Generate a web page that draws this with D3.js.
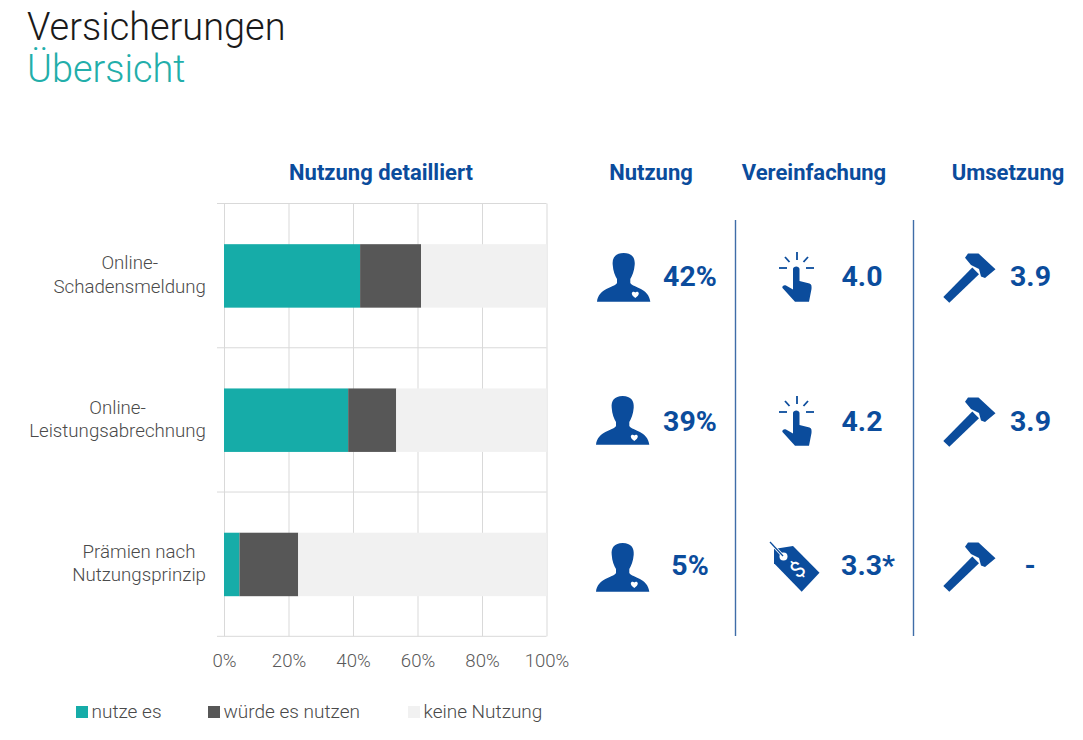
<!DOCTYPE html>
<html><head><meta charset="utf-8">
<script src="https://cdnjs.cloudflare.com/ajax/libs/d3/7.8.5/d3.min.js"></script>
<style>html,body{margin:0;padding:0;background:#fff}svg{display:block;font-family:Roboto,sans-serif}</style>
</head><body><svg id="c" width="1083" height="740"></svg>
<script>
const categories=[["Online-","Schadensmeldung"],["Online-","Leistungsabrechnung"],["Prämien nach","Nutzungsprinzip"]];
const seriesNames=["nutze es","würde es nutzen","keine Nutzung"];
const nutzeEs=[42.2,38.5,4.8];
const wuerdeEsNutzen=[18.9,14.9,18.2];
const keineNutzung=[38.9,46.6,77];
const tickValues=[0,20,40,60,80,100];
const colors=["#16aca8","#575757","#f1f1f1"];
const headers=["Nutzung detailliert","Nutzung","Vereinfachung","Umsetzung"];
const nutzungLabels=["42%","39%","5%"];
const vereinfachungLabels=["4.0","4.2","3.3*"];
const umsetzungLabels=["3.9","3.9","-"];
const blue="#0b4c9c";

const svg=d3.select("#c");
const x=d3.scaleLinear().domain([0,100]).range([224,546.5]);
const y=d3.scaleBand().domain(d3.range(categories.length)).range([203.5,636.3]);

// title
svg.append("text").attr("x",27).attr("y",39.5).attr("font-size",37.9).attr("font-weight",300).attr("fill","#1a1a1a").text("Versicherungen");
svg.append("text").attr("x",27).attr("y",81.5).attr("font-size",37.9).attr("font-weight",300).attr("fill","#22aeaa").text("Übersicht");

// grid + axis
const xAxis=d3.axisBottom(x).tickValues(tickValues).tickFormat(d=>d+"%").tickSize(432.8).tickPadding(17);
const gx=svg.append("g").attr("transform","translate(0,203.5)").call(xAxis);
gx.select(".domain").remove();
gx.selectAll("line").attr("stroke","#d9d9d9").attr("stroke-width",1);
gx.selectAll("text").attr("font-size",18.6).attr("font-weight",300).attr("fill","#595959").attr("font-family","Roboto");

// horizontal band lines
svg.append("g").selectAll("line").data(d3.range(categories.length+1)).join("line")
 .attr("x1",217).attr("x2",x(100))
 .attr("y1",i=>i<categories.length?y(i):y.range()[1])
 .attr("y2",i=>i<categories.length?y(i):y.range()[1])
 .attr("stroke","#d9d9d9");

// bars
const rows=categories.map((c,i)=>[nutzeEs[i],wuerdeEsNutzen[i],keineNutzung[i]]);
const barOff=y.bandwidth()*0.282, barH=y.bandwidth()*0.44;
rows.forEach((r,i)=>{
  let acc=0;
  r.forEach((v,k)=>{
    svg.append("rect").attr("x",x(acc)).attr("width",x(acc+v)-x(acc))
      .attr("y",y(i)+barOff).attr("height",barH).attr("fill",colors[k]);
    acc+=v;
  });
});

// category labels, each block centred on its widest line
categories.forEach((c,i)=>{
  const g=svg.append("g").attr("font-size",18.7).attr("font-weight",300).attr("fill","#4a4a4a");
  const base=y(i)+barOff+barH/2;
  const t2=g.append("text").attr("x",206).attr("y",base+17).attr("text-anchor","end").text(c[1]);
  const w=t2.node().getComputedTextLength();
  g.append("text").attr("x",206-w/2).attr("y",base-6.5).attr("text-anchor","middle").text(c[0]);
});

// headers
const headerX=[381,651,814,1008];
svg.append("g").selectAll("text").data(headers).join("text")
 .attr("x",(d,i)=>headerX[i]).attr("y",179.5).attr("text-anchor","middle")
 .attr("font-size",22).attr("font-weight",700).attr("fill",blue).text(d=>d);

// separators
[736,914].forEach(v=>svg.append("line").attr("x1",v-0.5).attr("x2",v-0.5).attr("y1",220).attr("y2",636).attr("stroke","#3f6da8").attr("stroke-width",1.4));

// icons
function person(px,py){
 const g=svg.append("g").attr("transform",`translate(${px},${py})`);
 g.append("path").attr("fill",blue).attr("d","M26.7 0C18.3 0 15 5 15.7 11.7C16 18 18.3 23 20 26L20 30C16.7 35 1.7 35 0 48.7L53.3 48.7C51.7 35 36.7 35 33.3 30L33.3 26C35 23 37.3 18 37.7 11.7C38.3 5 35 0 26.7 0Z");
 g.append("path").attr("fill","#fff").attr("d","M38.3 45C36 43 34.8 42 34.8 40.4C34.8 38.6 37.3 38 38.3 39.6C39.3 38 41.8 38.6 41.8 40.4C41.8 42 40.6 43 38.3 45Z");
}
function hand(px,py){
 const g=svg.append("g").attr("transform",`translate(${px},${py})`);
 g.append("path").attr("fill",blue).attr("d","M14 17C14 13.5 20.5 13.5 20.5 17L20.5 29L30.5 31.5C32.5 32 32.8 34 32.5 37L30 49.7L16 49.7L3.5 36C2.5 34.5 5 32.5 7 33.5L14 37.5Z");
 g.append("g").attr("stroke",blue).attr("stroke-width",1.8).attr("fill","none")
  .selectAll("path").data(["M18 0L18 8","M6 5L10.5 10","M29 5L24.5 10","M0 16L8 16","M27 16L35 16"]).join("path").attr("d",d=>d);
}
function tag(px,py){
 const g=svg.append("g").attr("transform",`translate(${px},${py})`);
 g.append("path").attr("fill",blue).attr("d","M4 8L23 5L49.5 31.7L31.7 50.7L4 22.3Z");
 g.append("circle").attr("cx",13.5).attr("cy",15.5).attr("r",4).attr("fill","#fff");
 g.append("line").attr("x1",0).attr("y1",1).attr("x2",13).attr("y2",15).attr("stroke","#fff").attr("stroke-width",3);
 g.append("line").attr("x1",0).attr("y1",1).attr("x2",13).attr("y2",15).attr("stroke",blue).attr("stroke-width",1.3);
 g.append("text").attr("x",28).attr("y",36).attr("text-anchor","middle").attr("font-size",22).attr("font-weight",400).attr("fill","#fff").attr("transform","rotate(-40 28 29)").text("$");
}
function hammer(px,py){
 const g=svg.append("g").attr("transform",`translate(${px},${py})`).attr("fill",blue);
 g.append("path").attr("d","M0.3 45L6.3 50.7L36 22.3L29.3 15.5Z");
 g.append("path").attr("d","M22 5.7L25 1.5L35.5 1.5L52.5 17.3L42 26L38 24.5L36 17L28 13Z");
}
const personPos=[[597,253],[596,396],[596,543]];
personPos.forEach(p=>person(p[0],p[1]));
hand(779,252);hand(779,396);tag(770,541);
[[943,252],[943,396],[943,541]].forEach(p=>hammer(p[0],p[1]));

// values
function vals(arr,xs){
 svg.append("g").selectAll("text").data(arr).join("text")
  .attr("x",(d,i)=>xs[i]).attr("y",(d,i)=>y(i)+barOff+barH/2+10.5).attr("text-anchor","middle")
  .attr("font-size",28.5).attr("font-weight",700).attr("fill",blue).text(d=>d);
}
vals(nutzungLabels,[690,690,690]);
vals(vereinfachungLabels,[862,862,868]);
vals(umsetzungLabels,[1030.5,1030.5,1030]);

// legend
const legSq=[76,208,408];
seriesNames.forEach((n,i)=>{
 svg.append("rect").attr("x",legSq[i]).attr("y",706).attr("width",12).attr("height",12).attr("fill",colors[i]);
 svg.append("text").attr("x",legSq[i]+15.5).attr("y",718).attr("font-size",19).attr("font-weight",300).attr("fill","#4a4a4a").text(n);
});
</script></body></html>
